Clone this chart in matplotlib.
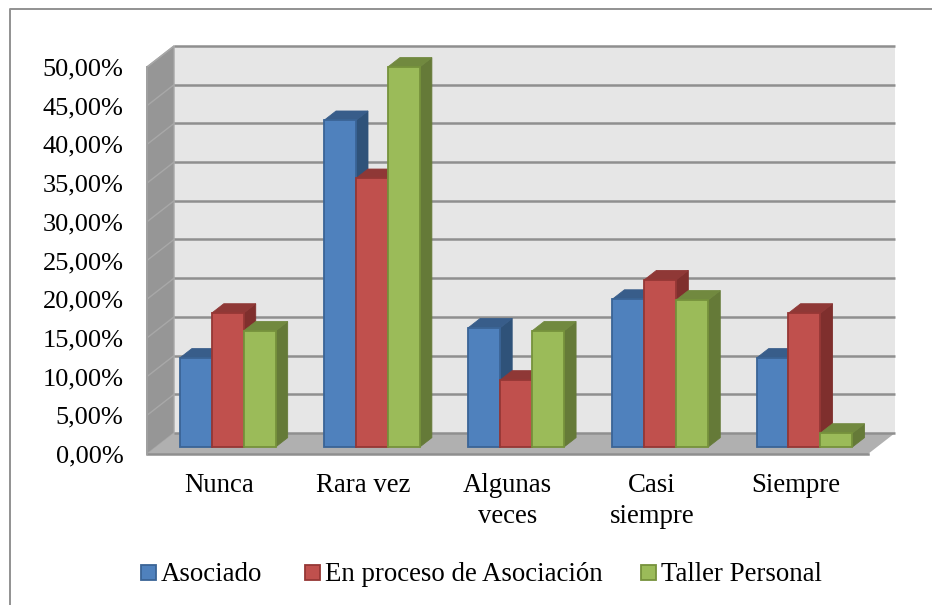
import matplotlib
matplotlib.use("Agg")
from matplotlib import pyplot as plt
from matplotlib.patches import Polygon, Rectangle
from matplotlib.lines import Line2D

categories = ["Nunca", "Rara vez", "Algunas\nveces", "Casi\nsiempre", "Siempre"]
asociado = [11.5, 42.2, 15.4, 19.1, 11.5]
en_proceso = [17.3, 34.7, 8.65, 21.6, 17.3]
taller = [15.0, 49.1, 15.0, 19.0, 1.8]
series_names = ["Asociado", "En proceso de Asociación", "Taller Personal"]
y_ticks = [0, 5, 10, 15, 20, 25, 30, 35, 40, 45, 50]
y_labels = ["0,00%", "5,00%", "10,00%", "15,00%", "20,00%", "25,00%", "30,00%",
            "35,00%", "40,00%", "45,00%", "50,00%"]

W, H = 932, 605
plt.rcParams["font.family"] = ["Liberation Serif", "DejaVu Serif"]

# colours: front, side, top, edge
blue = ("#4f81bd", "#2f5279", "#385d8a", "#3a6496")
red = ("#c0504d", "#7f2f2d", "#8f3836", "#953735")
green = ("#9bbb59", "#657a38", "#71893f", "#76923c")
colors = [blue, red, green]

fig = plt.figure(figsize=(W / 100, H / 100), dpi=100)
fig.patch.set_facecolor("white")

# frame of the chart area, only top and left are inside the picture
fig.add_artist(Line2D([9.5 / W, 9.5 / W, 1], [0, 1 - 9 / H, 1 - 9 / H], transform=fig.transFigure,
                      color="#929292", linewidth=1.4))

# axes = front plane of the 3D box
left, right, bottom, top = 147, 868, 454, 67
ax = fig.add_axes([left / W, 1 - bottom / H, (right - left) / W, (bottom - top) / H])
ax.set_xlim(0, 5)
ax.set_ylim(0, 50)
ax.patch.set_alpha(0)
for s in ax.spines.values():
    s.set_visible(False)

# depth direction, one full box depth in data units
DX = 27 / ((right - left) / 5)
DY = 21 / ((bottom - top) / 50)


def proj(x, y, z):
    return (x + z * DX, y + z * DY)


def poly(pts, **kw):
    ax.add_patch(Polygon(pts, closed=True, clip_on=False, **kw))


# back wall, left wall, floor
poly([proj(0, 0, 1), proj(5, 0, 1), proj(5, 50, 1), proj(0, 50, 1)], facecolor="#e6e6e6",
     edgecolor="none", zorder=1)
poly([proj(0, 0, 0), proj(0, 0, 1), proj(0, 50, 1), proj(0, 50, 0)], facecolor="#969696",
     edgecolor="#a6a6a6", linewidth=1, zorder=1)
poly([proj(0, 0, 0), proj(5, 0, 0), proj(5, 0, 1), proj(0, 0, 1)], facecolor="#b0b0b0",
     edgecolor="none", zorder=1)

# gridlines run along the back wall and the left wall
for v in y_ticks:
    ax.plot(*zip(proj(0, v, 1), proj(5, v, 1)), color="#8f8f8f", lw=1.8, zorder=2, clip_on=False,
            solid_capstyle="butt")
    if v > 0:
        ax.plot(*zip(proj(0, v, 0), proj(0, v, 1)), color="#a8a8a8", lw=1.0, zorder=2, clip_on=False)
ax.plot(*zip(proj(0, 0, 0), proj(5, 0, 0)), color="#8f8f8f", lw=1.8, zorder=3, clip_on=False)
ax.plot(*zip(proj(0, 0, 0), proj(0, 50, 0)), color="#a0a0a0", lw=1.4, zorder=3, clip_on=False)

# bars, drawn series by series inside each group so that neighbours overlap correctly
bar_w = 0.2215
z0, z1 = 0.33, 0.78
offset = 0.165
for i in range(len(categories)):
    for j, vals in enumerate([asociado, en_proceso, taller]):
        v = vals[i]
        face, side, topc, edge = colors[j]
        x0 = i + offset + j * bar_w
        x1 = x0 + bar_w
        z = 5 + j
        poly([proj(x1, 0, z0), proj(x1, 0, z1), proj(x1, v, z1), proj(x1, v, z0)], facecolor=side,
             edgecolor=side, linewidth=0.6, zorder=z)
        poly([proj(x0, v, z0), proj(x1, v, z0), proj(x1, v, z1), proj(x0, v, z1)], facecolor=topc,
             edgecolor=topc, linewidth=0.6, zorder=z)
        poly([proj(x0, 0, z0), proj(x1, 0, z0), proj(x1, v, z0), proj(x0, v, z0)], facecolor=face,
             edgecolor=edge, linewidth=1.3, zorder=z + 0.5)

ax.set_yticks(y_ticks)
ax.set_yticklabels(y_labels)
ax.set_xticks([i + 0.5 for i in range(len(categories))])
ax.set_xticklabels(categories, linespacing=1.28)
ax.tick_params(axis="y", length=0, pad=17, labelsize=19, colors="black")
ax.tick_params(axis="x", length=0, pad=14, labelsize=19.3, colors="black")

# legend, entries are not evenly spaced in the original
legend_x = [141, 305, 641]
for name, c, lx in zip(series_names, colors, legend_x):
    fig.add_artist(Rectangle((lx / W, 1 - 579.5 / H), 14.5 / W, 14.5 / H, transform=fig.transFigure,
                             facecolor=c[0], edgecolor=c[3], linewidth=1.3))
    fig.text((lx + 20) / W, 1 - 581 / H, name, fontsize=19.35, color="black", ha="left", va="baseline")

fig.savefig("out.png", dpi=100)
